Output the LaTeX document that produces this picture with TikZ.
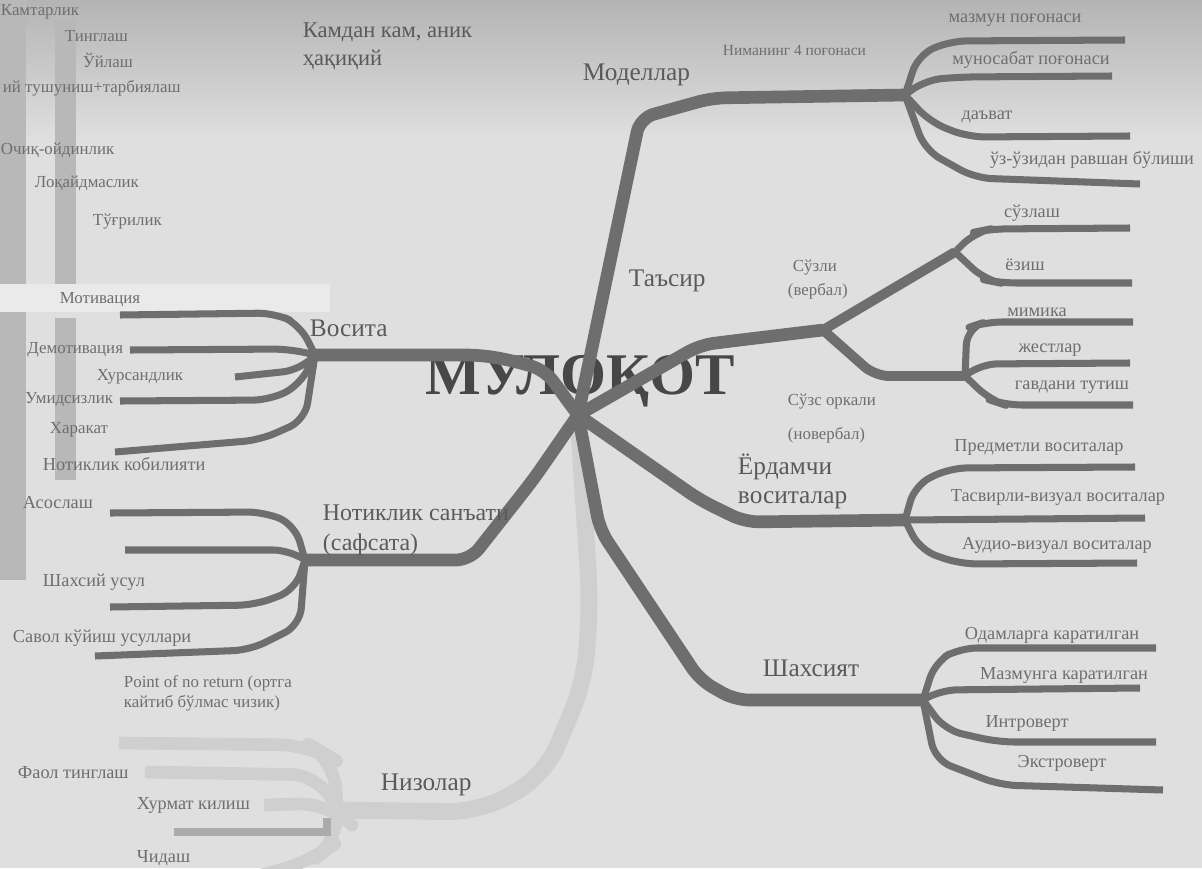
\documentclass[tikz,border=0pt]{standalone}
\usepackage{fontspec}
\setmainfont{Liberation Serif}

\definecolor{paper}{HTML}{DFDFDF}
\definecolor{paperdark}{HTML}{B4B4B4}
\definecolor{paperlight}{HTML}{EAEAEA}
\definecolor{scanmark}{HTML}{B8B8B8}
\definecolor{brgray}{HTML}{6E6E6E}
\definecolor{faintgray}{HTML}{CFCFCF}
\definecolor{bargray}{HTML}{ABABAB}
\definecolor{txtdark}{HTML}{474747}
\definecolor{txtmid}{HTML}{5A5A5A}
\definecolor{txtlight}{HTML}{6E6E6E}

\tikzset{
  title/.style={font=\bfseries\fontsize{42}{44}\selectfont, text=txtdark},
  bigtxt/.style={font=\fontsize{18}{20}\selectfont, text=txtmid, anchor=west},
  leaftxt/.style={font=\fontsize{13}{15}\selectfont, text=txtlight},
  smalltxt/.style={font=\fontsize{12}{14}\selectfont, text=txtlight, anchor=west},
  branch/.style={draw=brgray, line width=9pt, line join=round, rounded corners=10pt},
  twig/.style={draw=brgray, line width=5pt, line join=round, rounded corners=12pt},
  faint/.style={draw=faintgray, line width=12pt, line join=round, rounded corners=22pt},
}

\begin{document}
\begin{tikzpicture}[x=0.025cm,y=-0.025cm]
  \useasboundingbox (0,0) rectangle (1202,868);

  % paper and scan marks
  \fill[paper] (0,0) rectangle (1202,868);
  \shade[top color=paperdark, bottom color=paper] (0,0) rectangle (1202,140);
  \fill[scanmark] (0,0) rectangle (26,580);
  \fill[scanmark] (55,20) rectangle (76,285);
  \fill[scanmark] (55,318) rectangle (76,480);
  \fill[paperlight] (0,284) rectangle (330,312);

  % hubs and forks
  \coordinate (hub) at (578,415);
  \coordinate (fM) at (905,95);
  \coordinate (fT) at (823,330);
  \coordinate (fV) at (955,252);
  \coordinate (fN) at (965,376);
  \coordinate (fY) at (905,520);
  \coordinate (fS) at (923,700);
  \coordinate (fW) at (315,355);
  \coordinate (fP) at (305,560);
  \coordinate (fZ) at (337,810);

  % Низолар, faint
  \draw[faint] (hub) -- (590,600) -- (585,680) -- (545,775) -- (480,812) -- (fZ);
  \draw[faint, line width=9pt] (fZ) -- (335,760) -- (310,745) -- (119,743);
  \draw[faint, line width=9pt] (fZ) -- (322,775) -- (145,772);
  \draw[faint, line width=9pt] (fZ) -- (330,803) -- (264,805);
  \draw[faint, line width=9pt] (fZ) -- (340,840) -- (310,862) -- (250,878);
  \draw[draw=bargray, line width=5pt] (327,818) -- (327,832) -- (174,832);

  % title
  \node[title] (mul) at (580,381) {МУЛОҚОТ};

  % Моделлар
  \draw[branch] (hub) -- (640,118) -- (712,98) -- (fM);
  \draw[twig] (fM) -- (918,55) -- (950,41) -- (1125,40);
  \draw[twig] (fM) -- (925,80) -- (960,77) -- (1112,76);
  \draw[twig] (fM) -- (930,122) -- (968,137) -- (1130,136);
  \draw[twig] (fM) -- (925,150) -- (975,178) -- (1140,184);

  % Таъсир
  \draw[branch] (hub) -- (700,345) -- (740,340) -- (fT);
  \draw[branch, line width=7pt] (fT) -- (fV);
  \draw[branch, line width=7pt] (fT) -- (875,376) -- (fN);
  \draw[twig] (fV) -- (975,232) -- (990,229) -- (1130,228);
  \draw[twig] (fV) -- (985,280) -- (1000,283) -- (1132,283);
  \draw[twig] (fN) -- (967,328) -- (985,322) -- (1133,322);
  \draw[twig] (fN) -- (980,364) -- (1130,363);
  \draw[twig] (fN) -- (990,400) -- (1005,405) -- (1133,405);

  % Ёрдамчи воситалар
  \draw[branch] (hub) -- (700,500) -- (745,522) -- (fY);
  \draw[twig] (fY) -- (915,485) -- (950,468) -- (1135,467);
  \draw[twig] (fY) -- (1145,518);
  \draw[twig] (fY) -- (920,550) -- (960,564) -- (1137,563);

  % Шахсият
  \draw[branch] (hub) -- (600,530) -- (700,680) -- (735,700) -- (fS);
  \draw[twig] (fS) -- (935,662) -- (960,648) -- (1156,648);
  \draw[twig] (fS) -- (940,690) -- (1140,688);
  \draw[twig] (fS) -- (945,730) -- (998,742) -- (1156,742);
  \draw[twig] (fS) -- (935,760) -- (1000,785) -- (1163,790);

  % Восита
  \draw[branch] (hub) -- (545,370) -- (510,360) -- (480,355) -- (fW);
  \draw[twig] (fW) -- (300,325) -- (275,313) -- (120,315);
  \draw[twig] (fW) -- (290,349) -- (130,350);
  \draw[twig] (fW) -- (300,370) -- (235,377);
  \draw[twig] (fW) -- (300,385) -- (270,400) -- (120,401);
  \draw[twig] (fW) -- (305,420) -- (260,440) -- (115,452);

  % Нотиклик санъати
  \draw[branch] (hub) -- (533,480) -- (470,560) -- (fP);
  \draw[twig] (fP) -- (295,525) -- (265,512) -- (110,513);
  \draw[twig] (fP) -- (290,550) -- (125,550);
  \draw[twig] (fP) -- (295,590) -- (255,605) -- (110,607);
  \draw[twig] (fP) -- (300,625) -- (250,650) -- (95,656);

  % labels, left column
  \node[smalltxt] (kam) at (-4,12) {Камтарлик};
  \node[smalltxt] (tingl) at (60,36) {Тинглаш};
  \node[smalltxt] (uyl) at (78,60) {Ўйлаш};
  \node[smalltxt] (tush) at (-2,88) {ий тушуниш+тарбиялаш};
  \node[smalltxt] (ochiq) at (-4,150) {Очиқ-ойдинлик};
  \node[smalltxt] (loq) at (30,183) {Лоқайдмаслик};
  \node[smalltxt] (tugri) at (88,222) {Тўғрилик};
  \node[smalltxt, anchor=center] (motiv) at (100,300) {Мотивация};
  \node[smalltxt, anchor=east] (demot) at (128,350) {Демотивация};
  \node[smalltxt] (xurs) at (92,377) {Хурсандлик};
  \node[smalltxt, anchor=east] (umid) at (118,400) {Умидсизлик};
  \node[smalltxt] (harak) at (45,430) {Харакат};
  \node[bigtxt] (vosita) at (305,328) {Восита};
  \node[bigtxt, font=\fontsize{16}{18}\selectfont] (kamdan) at (298,32) {Камдан кам, аник};
  \node[bigtxt, font=\fontsize{16}{18}\selectfont] (haqiq) at (298,60) {ҳақиқий};

  % labels, Моделлар
  \node[bigtxt] (modl) at (578,75) {Моделлар};
  \node[smalltxt, font=\fontsize{11}{13}\selectfont] (pog) at (718,50) {Ниманинг 4 поғонаси};
  \node[leaftxt] (m1) at (1015,20) {мазмун поғонаси};
  \node[leaftxt] (m2) at (1031,60) {муносабат поғонаси};
  \node[leaftxt] (m3) at (987,117) {даъват};
  \node[leaftxt] (m4) at (1092,160) {ўз-ўзидан равшан бўлиши};

  % labels, Таъсир
  \node[bigtxt] (tasir) at (624,281) {Таъсир};
  \node[smalltxt] (suzli) at (788,268) {Сўзли};
  \node[smalltxt] (verb) at (783,291) {(вербал)};
  \node[leaftxt] (v1) at (1032,213) {сўзлаш};
  \node[leaftxt] (v2) at (1025,265) {ёзиш};
  \node[leaftxt] (n1) at (1037,312) {мимика};
  \node[leaftxt] (n2) at (1050,350) {жестлар};
  \node[leaftxt] (n3) at (1072,387) {гавдани тутиш};
  \node[smalltxt] (suzs) at (783,402) {Сўзс оркали};
  \node[smalltxt] (noverb) at (783,435) {(новербал)};

  % labels, Ёрдамчи воситалар
  \node[bigtxt] (yord) at (733,467) {Ёрдамчи};
  \node[bigtxt] (yord2) at (733,500) {воситалар};
  \node[leaftxt] (y1) at (1039,447) {Предметли воситалар};
  \node[leaftxt] (y2) at (1058,497) {Тасвирли-визуал воситалар};
  \node[leaftxt] (y3) at (1057,545) {Аудио-визуал воситалар};

  % labels, Нотиклик санъати
  \node[leaftxt, anchor=west] (p1) at (38,464) {Нотиклик кобилияти};
  \node[leaftxt, anchor=west] (p2) at (18,503) {Асослаш};
  \node[leaftxt, anchor=west] (p3) at (38,582) {Шахсий усул};
  \node[leaftxt, anchor=west] (p4) at (8,638) {Савол кўйиш усуллари};
  \node[bigtxt, font=\fontsize{17}{19}\selectfont] (notiq) at (318,513) {Нотиклик санъати};
  \node[bigtxt, font=\fontsize{17}{19}\selectfont] (safs) at (318,545) {(сафсата)};

  % labels, Шахсият
  \node[bigtxt] (shax) at (758,668) {Шахсият};
  \node[leaftxt] (s1) at (1052,635) {Одамларга каратилган};
  \node[leaftxt] (s2) at (1064,675) {Мазмунга каратилган};
  \node[leaftxt] (s3) at (1027,723) {Интроверт};
  \node[leaftxt] (s4) at (1062,763) {Экстроверт};

  % labels, Низолар
  \node[bigtxt] (nizo) at (376,785) {Низолар};
  \node[smalltxt] (point) at (119,683) {Point of no return (ортга};
  \node[smalltxt] (point2) at (119,703) {кайтиб бўлмас чизик)};
  \node[leaftxt, anchor=west] (faol) at (13,773) {Фаол тинглаш};
  \node[leaftxt, anchor=west] (hurm) at (132,805) {Хурмат килиш};
  \node[leaftxt, anchor=west] (chid) at (132,858) {Чидаш};
\end{tikzpicture}
\end{document}
